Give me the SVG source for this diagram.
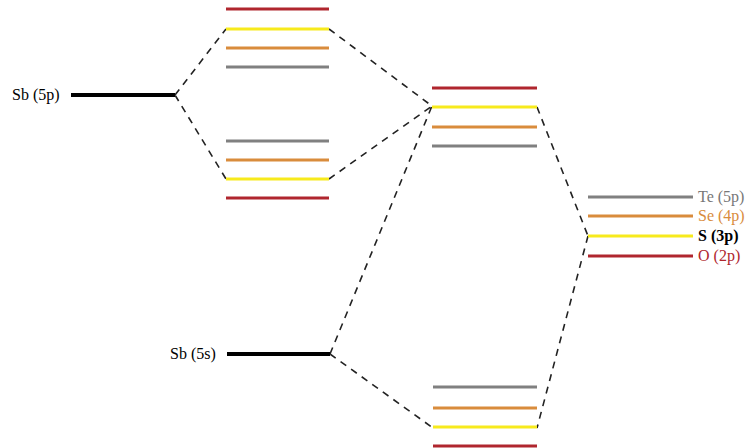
<svg xmlns="http://www.w3.org/2000/svg" width="751" height="448" viewBox="0 0 751 448">
<style>
.r{stroke:#b0262e;stroke-width:3}
.y{stroke:#f7ea1c;stroke-width:3}
.o{stroke:#d98c3c;stroke-width:3}
.g{stroke:#808080;stroke-width:3}
.k{stroke:#000;stroke-width:4}
.d{stroke:#222;stroke-width:1.6;stroke-dasharray:7,6;fill:none}
text{font-family:"Liberation Serif","DejaVu Serif",serif;font-size:16px}
</style>
<rect width="751" height="448" fill="#fff"/>
<g id="connectors">
<path class="d" d="M175,95L226,29M175,95L226,179M329,29L432,106M329,179L432,106M537,107L588,236M588,236L537,428M330,354L432,106M330,354L433,428"/>
</g>
<g id="sb5p"><line class="k" x1="71" y1="95" x2="175" y2="95"/><text x="12" y="100">Sb (5p)</text></g>
<g id="top-upper">
<line class="r" x1="226" y1="9" x2="329" y2="9"/>
<line class="y" x1="226" y1="29" x2="329" y2="29"/>
<line class="o" x1="226" y1="48" x2="329" y2="48"/>
<line class="g" x1="226" y1="67" x2="329" y2="67"/>
</g>
<g id="top-lower">
<line class="g" x1="226" y1="141" x2="329" y2="141"/>
<line class="o" x1="226" y1="160" x2="329" y2="160"/>
<line class="y" x1="226" y1="179" x2="329" y2="179"/>
<line class="r" x1="226" y1="198" x2="329" y2="198"/>
</g>
<g id="middle">
<line class="r" x1="432" y1="88" x2="537" y2="88"/>
<line class="y" x1="432" y1="107" x2="537" y2="107"/>
<line class="o" x1="432" y1="127" x2="537" y2="127"/>
<line class="g" x1="432" y1="146" x2="537" y2="146"/>
</g>
<g id="chalcogen">
<line class="g" x1="588" y1="197" x2="693" y2="197"/>
<line class="o" x1="588" y1="216" x2="693" y2="216"/>
<line class="y" x1="588" y1="236" x2="693" y2="236"/>
<line class="r" x1="588" y1="256" x2="693" y2="256"/>
<text x="698" y="202" fill="#777">Te (5p)</text>
<text x="698" y="221" fill="#d98c3c">Se (4p)</text>
<text x="698" y="241" fill="#000" font-weight="bold">S (3p)</text>
<text x="698" y="261" fill="#b0262e">O (2p)</text>
</g>
<g id="sb5s"><line class="k" x1="227" y1="354" x2="330" y2="354"/><text x="170" y="359">Sb (5s)</text></g>
<g id="bottom">
<line class="g" x1="433" y1="387" x2="537" y2="387"/>
<line class="o" x1="433" y1="408" x2="537" y2="408"/>
<line class="y" x1="433" y1="427" x2="537" y2="427"/>
<line class="r" x1="433" y1="446" x2="537" y2="446"/>
</g>
</svg>
